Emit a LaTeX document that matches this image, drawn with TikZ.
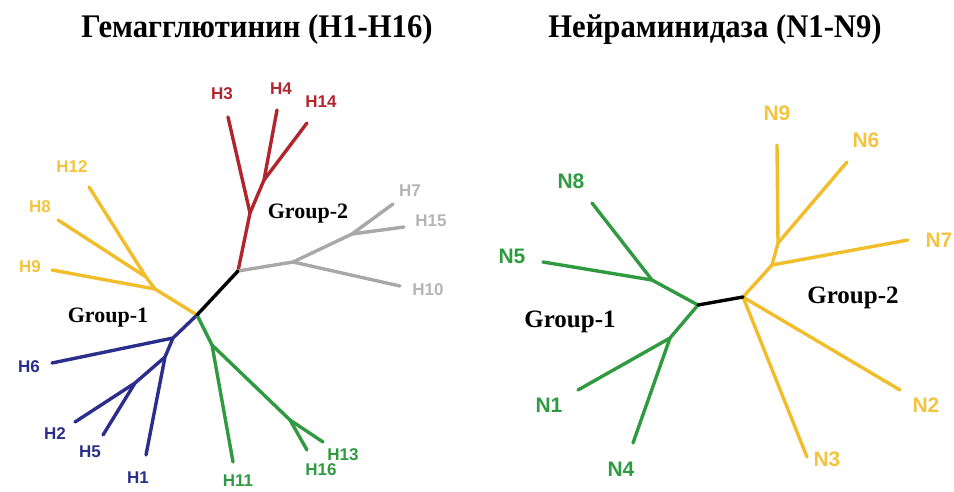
\documentclass[tikz,border=0pt]{standalone}
\usepackage{fontspec}
\setmainfont{Liberation Serif}
\setsansfont{Liberation Sans}
\newfontfamily\titlefont[FakeStretch=0.93]{Liberation Serif}
\usepackage{xcolor}
\definecolor{treeRed}{HTML}{B0262C}
\definecolor{treeGold}{HTML}{F2BD2B}
\definecolor{treeGray}{HTML}{A8A8A8}
\definecolor{treeBlue}{HTML}{2B2E8A}
\definecolor{treeGreen}{HTML}{2F9A40}
\usetikzlibrary{positioning}
\tikzset{
  branch/.style={line width=3.4pt, line cap=round, line join=round},
  leafH/.style={font=\sffamily\bfseries\fontsize{17}{17}\selectfont, inner sep=0pt},
  leafN/.style={font=\sffamily\bfseries\fontsize{21}{21}\selectfont, inner sep=0pt},
  grouplabel/.style={font=\bfseries\fontsize{22}{22}\selectfont, inner sep=0pt},
  treetitle/.style={font=\titlefont\bfseries\fontsize{33}{33}\selectfont, inner sep=0pt},
}

\begin{document}
\begin{tikzpicture}[x=1pt, y=-1pt]

    \useasboundingbox (0,0) rectangle (954,491);

    % --- Titles ---
    \node[treetitle] (titleH) at (257,30) {Гемагглютинин (H1-H16)};
    \node[treetitle] (titleN) at (715,30) {Нейраминидаза (N1-N9)};

    % --- Left tree: hemagglutinin ---
    \coordinate (hroot) at (197,315);
    \coordinate (g2root) at (238,271);
    % red clade
    \coordinate (r1) at (250,213);
    \coordinate (r2) at (264,180);
    \coordinate (h3) at (228,117);
    \coordinate (h4) at (277,110);
    \coordinate (h14) at (307,123);
    % gray clade
    \coordinate (gr1) at (293,262);
    \coordinate (gr2) at (352,234);
    \coordinate (h7) at (393,204);
    \coordinate (h15) at (404,227);
    \coordinate (h10) at (400,286);
    % gold clade
    \coordinate (y1) at (155,289);
    \coordinate (y2) at (146,277);
    \coordinate (h12) at (89,187);
    \coordinate (h8) at (58,220);
    \coordinate (h9) at (52,270);
    % blue clade
    \coordinate (b1) at (173,338);
    \coordinate (b2) at (165,357);
    \coordinate (b3) at (135,383);
    \coordinate (h6) at (52,363);
    \coordinate (h1) at (146,455);
    \coordinate (h2) at (75,422);
    \coordinate (h5) at (103,435);
    % green clade
    \coordinate (gn1) at (212,345);
    \coordinate (gn2) at (290,420);
    \coordinate (h11) at (233,462);
    \coordinate (h13) at (323,442);
    \coordinate (h16) at (307,450);

    \draw[branch, treeRed] (g2root) -- (r1) -- (h3);
    \draw[branch, treeRed] (r1) -- (r2) -- (h4);
    \draw[branch, treeRed] (r2) -- (h14);
    \draw[branch, treeGray] (g2root) -- (gr1) -- (h10);
    \draw[branch, treeGray] (gr1) -- (gr2) -- (h7);
    \draw[branch, treeGray] (gr2) -- (h15);
    \draw[branch, treeGold] (hroot) -- (y1) -- (h9);
    \draw[branch, treeGold] (y1) -- (y2) -- (h12);
    \draw[branch, treeGold] (y2) -- (h8);
    \draw[branch, treeBlue] (hroot) -- (b1) -- (h6);
    \draw[branch, treeBlue] (b1) -- (b2) -- (h1);
    \draw[branch, treeBlue] (b2) -- (b3) -- (h2);
    \draw[branch, treeBlue] (b3) -- (h5);
    \draw[branch, treeGreen] (hroot) -- (gn1) -- (h11);
    \draw[branch, treeGreen] (gn1) -- (gn2) -- (h13);
    \draw[branch, treeGreen] (gn2) -- (h16);
    \draw[branch, black] (hroot) -- (g2root);

    % leaf labels
    \node[leafH, treeRed] (lh3) at (222,94) {H3};
    \node[leafH, treeRed] (lh4) at (281,89) {H4};
    \node[leafH, treeRed] (lh14) at (321,102) {H14};
    \node[leafH, treeGray!85] (lh7) at (410,191) {H7};
    \node[leafH, treeGray!85] (lh15) at (431,221) {H15};
    \node[leafH, treeGray!85] (lh10) at (428,290) {H10};
    \node[leafH, treeGold!90] (lh12) at (72,167) {H12};
    \node[leafH, treeGold!90] (lh8) at (40,207) {H8};
    \node[leafH, treeGold!90] (lh9) at (30,267) {H9};
    \node[leafH, treeBlue] (lh6) at (29,367) {H6};
    \node[leafH, treeBlue] (lh2) at (55,434) {H2};
    \node[leafH, treeBlue] (lh5) at (90,452) {H5};
    \node[leafH, treeBlue] (lh1) at (138,478) {H1};
    \node[leafH, treeGreen] (lh11) at (238,481) {H11};
    \node[leafH, treeGreen] (lh16) at (321,470) {H16};
    \node[leafH, treeGreen] (lh13) at (343,455) {H13};

    \node[grouplabel] (hgroup1) at (108,318) {Group-1};
    \node[grouplabel] (hgroup2) at (308,214) {Group-2};

    % --- Right tree: neuraminidase ---
    \coordinate (nroot) at (698,305);
    \coordinate (n2root) at (743,297);
    % green clade
    \coordinate (nj1) at (652,280);
    \coordinate (nj2) at (670,338);
    \coordinate (n8) at (592,203);
    \coordinate (n5) at (543,262);
    \coordinate (n1) at (578,390);
    \coordinate (n4) at (633,443);
    % gold clade
    \coordinate (yj1) at (772,265);
    \coordinate (yj2) at (778,243);
    \coordinate (n9) at (777,145);
    \coordinate (n6) at (847,162);
    \coordinate (n7) at (908,240);
    \coordinate (n2) at (900,390);
    \coordinate (n3) at (807,457);

    \draw[branch, treeGreen] (nroot) -- (nj1) -- (n8);
    \draw[branch, treeGreen] (nj1) -- (n5);
    \draw[branch, treeGreen] (nroot) -- (nj2) -- (n1);
    \draw[branch, treeGreen] (nj2) -- (n4);
    \draw[branch, treeGold] (n2root) -- (yj1) -- (n7);
    \draw[branch, treeGold] (yj1) -- (yj2) -- (n9);
    \draw[branch, treeGold] (yj2) -- (n6);
    \draw[branch, treeGold] (n2root) -- (n2);
    \draw[branch, treeGold] (n2root) -- (n3);
    \draw[branch, black] (nroot) -- (n2root);

    % leaf labels
    \node[leafN, treeGreen] (ln8) at (571,181) {N8};
    \node[leafN, treeGreen] (ln5) at (512,256) {N5};
    \node[leafN, treeGreen] (ln1) at (549,405) {N1};
    \node[leafN, treeGreen] (ln4) at (621,469) {N4};
    \node[leafN, treeGold!90] (ln9) at (777,113) {N9};
    \node[leafN, treeGold!90] (ln6) at (866,140) {N6};
    \node[leafN, treeGold!90] (ln7) at (939,240) {N7};
    \node[leafN, treeGold!90] (ln2) at (926,405) {N2};
    \node[leafN, treeGold!90] (ln3) at (827,459) {N3};

    \node[grouplabel, font=\bfseries\fontsize{25}{25}\selectfont] (ngroup1) at (570,322) {Group-1};
    \node[grouplabel, font=\bfseries\fontsize{25}{25}\selectfont] (ngroup2) at (853,298) {Group-2};

\end{tikzpicture}
\end{document}
